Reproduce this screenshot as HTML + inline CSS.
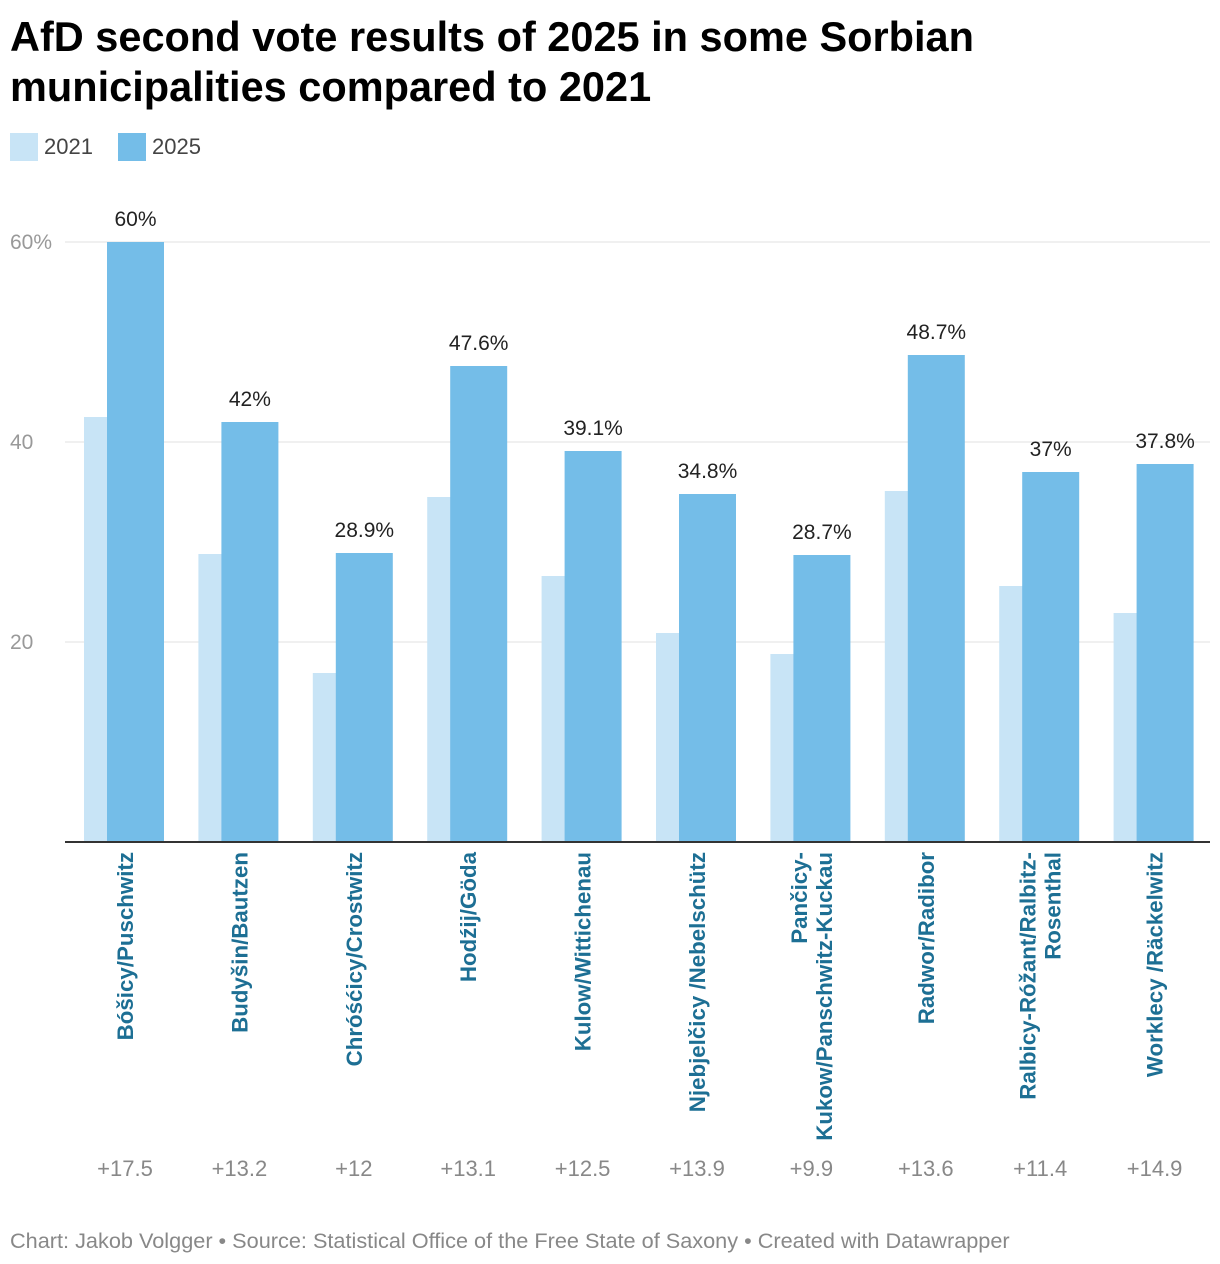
<!DOCTYPE html>
<html><head><meta charset="utf-8">
<style>
body{margin:0;background:#fff;font-family:"Liberation Sans",Arial,sans-serif;width:1220px;height:1264px;overflow:hidden;position:relative}
#title{position:absolute;left:10px;top:12px;font-size:41.5px;font-weight:bold;line-height:50px;color:#000}
.leg{position:absolute;top:133px;font-size:22px;color:#444;display:flex;align-items:center}
.sw{width:28px;height:28px;margin-right:6px}
#footer{position:absolute;left:10px;top:1228px;font-size:21.7px;color:#888}
</style></head><body>
<div id="title">AfD second vote results of 2025 in some Sorbian<br>municipalities compared to 2021</div>
<div class="leg" style="left:10px"><div class="sw" style="background:#c8e4f6"></div>2021</div>
<div class="leg" style="left:118px"><div class="sw" style="background:#74bde8"></div>2025</div>
<svg id="chart" width="1220" height="1264" style="position:absolute;left:0;top:0"></svg>
<div id="footer">Chart: Jakob Volgger • Source: Statistical Office of the Free State of Saxony • Created with Datawrapper</div>
<script>
const categories=[["Bóšicy/Puschwitz"],["Budyšin/Bautzen"],["Chróśćicy/Crostwitz"],["Hodźij/Göda"],["Kulow/Wittichenau"],["Njebjelčicy /Nebelschütz"],["Pančicy-","Kukow/Panschwitz-Kuckau"],["Radwor/Radibor"],["Ralbicy-Róžant/Ralbitz-","Rosenthal"],["Worklecy /Räckelwitz"]];
const values2021=[42.5,28.8,16.9,34.5,26.6,20.9,18.8,35.1,25.6,22.9];
const values2025=[60,42,28.9,47.6,39.1,34.8,28.7,48.7,37,37.8];
const labels2025=["60%","42%","28.9%","47.6%","39.1%","34.8%","28.7%","48.7%","37%","37.8%"];
const diffLabels=["+17.5","+13.2","+12","+13.1","+12.5","+13.9","+9.9","+13.6","+11.4","+14.9"];
const yTicks=[20,40,60];
const yTickLabels=["20","40","60%"];
const svg=document.getElementById('chart');const NS="http://www.w3.org/2000/svg";
const y=v=>842-v*10;
const gx=i=>84+i*114.4;
function mk(t,a,txt){const e=document.createElementNS(NS,t);for(const k in a)e.setAttribute(k,a[k]);if(txt!==undefined)e.textContent=txt;svg.appendChild(e);return e;}
yTicks.forEach((t,i)=>{
 const l=mk('line',{x1:65,x2:1210,y1:y(t),y2:y(t),stroke:'#e0e0e0','stroke-width':1});
 
 
 const tx=mk('text',{x:10,y:y(t)+7,'font-size':21,fill:'#999'},yTickLabels[i]);
 
 
});
categories.forEach((c,i)=>{
 const x0=gx(i);
 const b1=mk('rect',{x:x0,y:y(values2021[i]),width:57,height:values2021[i]*10,fill:'#c8e4f6'});
 
 
 const b2=mk('rect',{x:x0+23,y:y(values2025[i]),width:57,height:values2025[i]*10,fill:'#74bde8'});
 
 
 const vl=mk('text',{x:x0+51.5,y:y(values2025[i])-16,'font-size':21,fill:'#222','text-anchor':'middle'},labels2025[i]);
 
 
 const cx=x0+41;
 const n=c.length;
 c.forEach((line,j)=>{
  const lx=cx+(j-(n-1)/2)*25+8;
  const t=mk('text',{x:lx,y:852,'font-size':22.3,'font-weight':'bold',fill:'#1d6f94','text-anchor':'end',transform:`rotate(-90 ${lx} 852)`},line);
  
  
 });
 const d=mk('text',{x:cx,y:1176,'font-size':22,fill:'#888','text-anchor':'middle'},diffLabels[i]);
 
 
});
const ax=mk('line',{x1:65,x2:1210,y1:842,y2:842,stroke:'#333','stroke-width':2});


</script>
</body></html>
